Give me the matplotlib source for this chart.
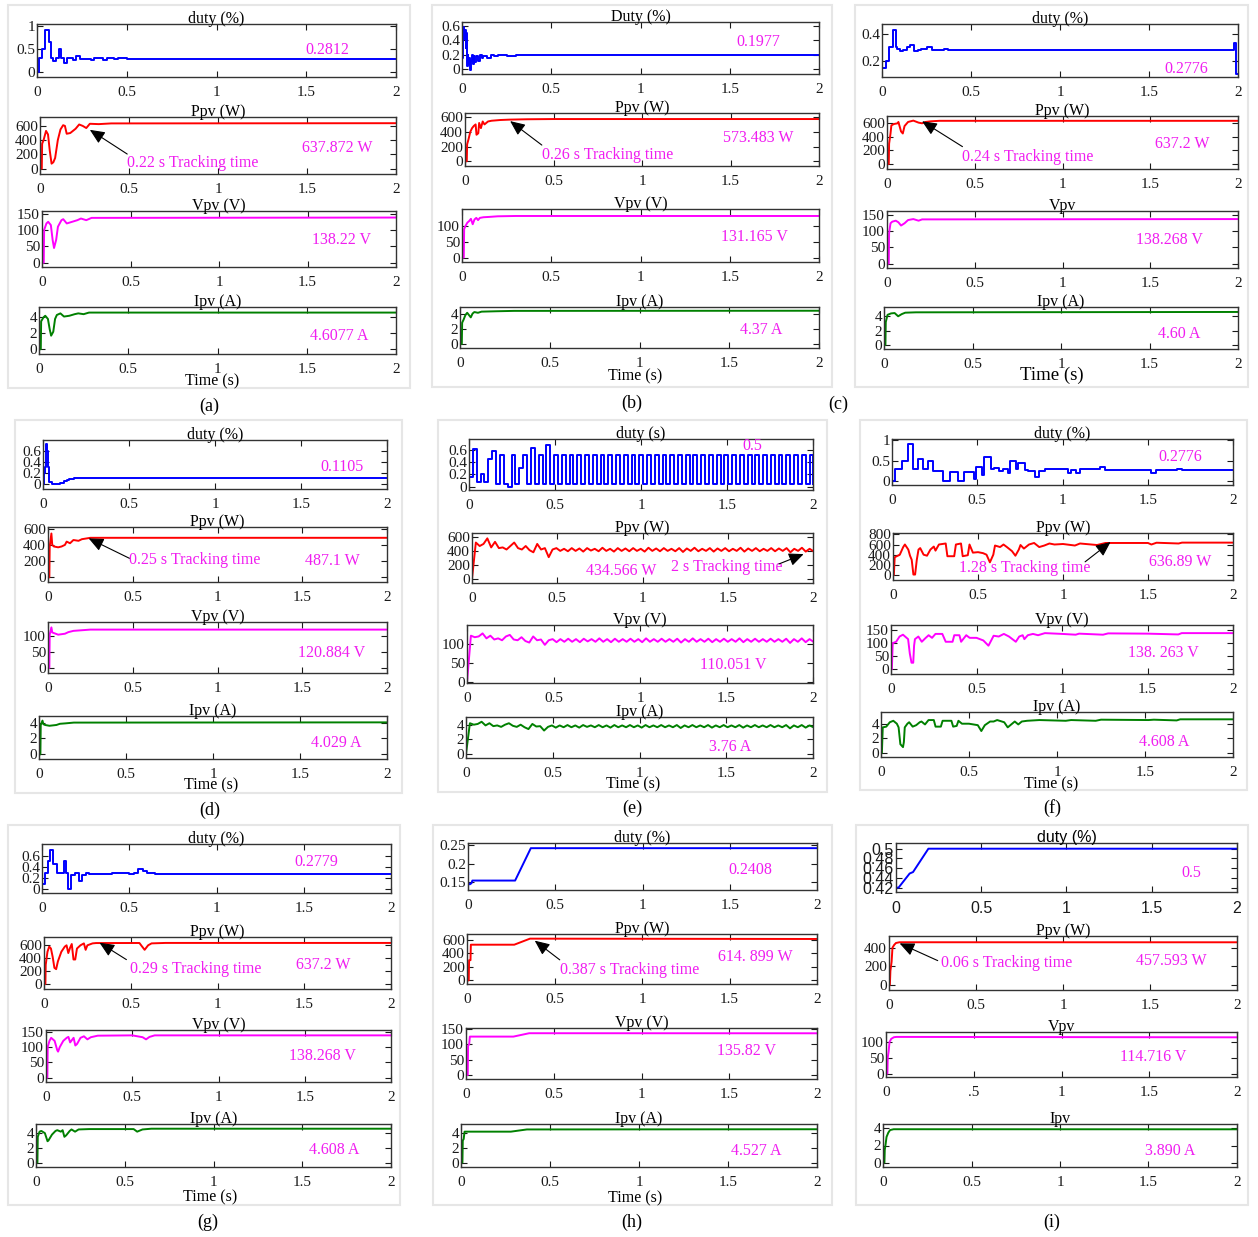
import numpy as np
import matplotlib
matplotlib.use('Agg')
import matplotlib.pyplot as plt
from matplotlib.patches import Rectangle

plt.rcParams['font.family'] = ['Liberation Serif', 'DejaVu Serif']

# ---------------------------------------------------------------
# data (time in s)
# ---------------------------------------------------------------

# (a)
a_duty_t = [0, 0.012, 0.03, 0.045, 0.065, 0.08, 0.09, 0.105, 0.12, 0.135, 0.15, 0.165, 0.2, 0.22, 0.24, 0.3, 0.32, 0.37, 0.39, 0.43, 0.45, 0.5, 2.0]
a_duty = [0, 0.3, 0.5, 0.9, 0.65, 0.3, 0.22, 0.3, 0.5, 0.3, 0.18, 0.3, 0.25, 0.33, 0.28, 0.26, 0.29, 0.26, 0.29, 0.27, 0.29, 0.28, 0.28]
a_ppv_t = [0, 0.01, 0.012, 0.02, 0.034, 0.045, 0.055, 0.065, 0.075, 0.085, 0.1, 0.115, 0.13, 0.14, 0.15, 0.17, 0.2, 0.22, 0.24, 0.26, 0.28, 0.33, 0.4, 2.0]
a_ppv = [0, 0, 350, 400, 530, 480, 250, 70, 90, 150, 400, 550, 610, 600, 490, 500, 560, 620, 600, 570, 630, 625, 635, 638]
a_vpv_t = [0, 0.01, 0.012, 0.025, 0.035, 0.05, 0.06, 0.068, 0.08, 0.09, 0.1, 0.11, 0.12, 0.14, 0.17, 0.2, 0.22, 0.25, 0.28, 2.0]
a_vpv = [0, 0, 100, 120, 125, 115, 70, 45, 70, 110, 120, 130, 133, 120, 125, 130, 135, 130, 137, 138]
a_ipv_t = [0, 0.01, 0.012, 0.025, 0.035, 0.05, 0.06, 0.068, 0.08, 0.09, 0.1, 0.12, 0.14, 0.17, 0.2, 0.22, 0.25, 0.28, 2.0]
a_ipv = [0, 0, 3.5, 4.0, 4.2, 3.8, 2.5, 1.7, 2.2, 3.8, 4.3, 4.5, 4.1, 4.2, 4.4, 4.5, 4.4, 4.6, 4.6]

# (b)
b_duty_t = [0, 0.004, 0.008, 0.012, 0.016, 0.02, 0.024, 0.028, 0.032, 0.036, 0.04, 0.045, 0.05, 0.055, 0.06, 0.065, 0.07, 0.08, 0.09, 0.1, 0.11, 0.12, 0.14, 0.16, 0.18, 0.2, 0.25, 0.3, 2.0]
b_duty = [0.15, 0.4, 0.58, 0.42, 0.55, 0.3, 0.5, 0.05, 0.2, 0.08, 0.15, -0.01, 0.12, 0.2, 0.08, 0.18, 0.1, 0.19, 0.12, 0.2, 0.15, 0.19, 0.16, 0.2, 0.18, 0.2, 0.19, 0.198, 0.198]
b_ppv_t = [0, 0.01, 0.012, 0.02, 0.03, 0.04, 0.05, 0.06, 0.065, 0.075, 0.08, 0.09, 0.1, 0.11, 0.13, 0.15, 0.2, 0.25, 0.35, 0.5, 2.0]
b_ppv = [0, 0, 230, 300, 400, 450, 480, 500, 360, 380, 520, 450, 540, 500, 540, 550, 560, 565, 570, 573, 573]
b_vpv_t = [0, 0.01, 0.012, 0.02, 0.03, 0.04, 0.05, 0.06, 0.07, 0.08, 0.09, 0.1, 0.12, 0.15, 0.2, 0.3, 2.0]
b_vpv = [0, 0, 90, 100, 110, 115, 122, 105, 120, 125, 118, 125, 127, 128, 130, 131, 131]
b_ipv_t = [0, 0.01, 0.012, 0.02, 0.03, 0.04, 0.06, 0.07, 0.08, 0.1, 0.12, 0.2, 0.3, 2.0]
b_ipv = [0, 0, 2.8, 3.2, 3.8, 4.1, 3.5, 4.0, 4.2, 4.1, 4.25, 4.3, 4.35, 4.37]

# (c)
c_duty_t = [0, 0.02, 0.04, 0.06, 0.08, 0.085, 0.1, 0.12, 0.14, 0.16, 0.18, 0.2, 0.22, 0.25, 0.28, 0.35, 0.37, 1.98, 1.99, 2.0]
c_duty = [0.15, 0.2, 0.3, 0.43, 0.3, 0.29, 0.27, 0.28, 0.3, 0.32, 0.27, 0.28, 0.29, 0.3, 0.28, 0.29, 0.278, 0.33, 0.1, 0.1]
c_ppv_t = [0, 0.01, 0.012, 0.02, 0.025, 0.04, 0.06, 0.065, 0.08, 0.09, 0.1, 0.12, 0.15, 0.18, 0.2, 0.22, 0.25, 0.3, 2.0]
c_ppv = [0, 0, 300, 450, 570, 590, 600, 620, 480, 450, 560, 620, 640, 610, 600, 620, 630, 637, 637]
c_vpv_t = [0, 0.01, 0.012, 0.02, 0.03, 0.05, 0.065, 0.08, 0.1, 0.12, 0.15, 0.18, 0.2, 2.0]
c_vpv = [0, 0, 95, 125, 130, 133, 128, 118, 125, 135, 138, 133, 137, 138]
c_ipv_t = [0, 0.008, 0.01, 0.02, 0.04, 0.06, 0.08, 0.1, 0.12, 0.18, 2.0]
c_ipv = [0, 0, 3.2, 4.2, 4.4, 4.45, 4.0, 4.3, 4.5, 4.55, 4.6]

# (d)
d_duty_t = [0, 0.005, 0.01, 0.02, 0.025, 0.03, 0.035, 0.05, 0.1, 0.12, 0.14, 0.15, 0.18, 0.22, 2.0]
d_duty = [0, 0.2, 0.3, 0.72, 0.6, 0.3, 0.02, 0.0, 0.01, 0.05, 0.07, 0.09, 0.1, 0.11, 0.11]
d_ppv_t = [0, 0.008, 0.01, 0.02, 0.025, 0.035, 0.06, 0.08, 0.1, 0.11, 0.13, 0.15, 0.18, 0.2, 0.23, 0.25, 2.0]
d_ppv = [0, 0, 380, 540, 400, 380, 370, 380, 400, 440, 420, 460, 450, 470, 480, 487, 487]
d_vpv_t = [0, 0.008, 0.01, 0.02, 0.025, 0.035, 0.06, 0.1, 0.12, 0.15, 0.2, 0.25, 2.0]
d_vpv = [0, 0, 105, 128, 112, 110, 105, 108, 113, 117, 119, 121, 121]
d_ipv_t = [0, 0.008, 0.01, 0.02, 0.025, 0.035, 0.06, 0.1, 0.12, 0.15, 0.2, 2.0]
d_ipv = [0, 0, 3.7, 4.25, 3.8, 3.7, 3.6, 3.7, 3.85, 3.9, 4.0, 4.03]

# (e) sampled every 0.0225 s (half a duty period)
e_step = 0.0225
e_duty = [0.15, 0.62, 0.08, 0.2, 0.08, 0.45, 0.58, 0.05, 0.52, 0.05, 0.0, 0.52, 0.05, 0.3, 0.52, 0.05, 0.63, 0.05, 0.52, 0.05, 0.68, 0.05, 0.52, 0.05,
          0.52, 0.05, 0.52, 0.05, 0.52, 0.05, 0.52, 0.05, 0.52, 0.05,
          0.52, 0.05, 0.52, 0.05, 0.52, 0.05, 0.52, 0.05, 0.52, 0.05,
          0.52, 0.05, 0.52, 0.05, 0.52, 0.05, 0.52, 0.05, 0.52, 0.05,
          0.52, 0.05, 0.52, 0.05, 0.52, 0.05, 0.52, 0.05, 0.52, 0.05,
          0.52, 0.05, 0.52, 0.05, 0.52, 0.05, 0.52, 0.05, 0.52, 0.05,
          0.52, 0.05, 0.52, 0.05, 0.52, 0.05, 0.52, 0.05, 0.52, 0.05,
          0.52, 0.05, 0.52, 0.05, 0.52, 0.05]
e_ppv = [0, 520, 470, 500, 580, 450, 530, 440, 450, 420, 470, 520, 440, 420, 470, 410, 380, 500, 420, 440, 310, 420, 440, 400,
         430, 395, 440, 400, 435, 390, 440, 405, 430, 395,
         445, 400, 430, 390, 440, 400, 435, 395, 440, 400,
         430, 390, 445, 400, 435, 395, 440, 400, 430, 395,
         440, 385, 435, 400, 445, 395, 430, 400, 440, 390,
         435, 400, 440, 395, 430, 400, 445, 390, 435, 400,
         440, 395, 430, 400, 440, 395, 435, 400, 440, 380,
         430, 400, 445, 390, 430, 395]
e_vpv = [0, 122, 118, 120, 128, 115, 122, 112, 115, 110, 120, 124, 112, 110, 118, 108, 104, 120, 110, 112, 98, 110, 113, 105,
         113, 106, 114, 106, 113, 105, 114, 107, 113, 106,
         115, 106, 113, 105, 114, 106, 113, 106, 114, 106,
         113, 105, 115, 106, 113, 106, 114, 106, 113, 106,
         114, 104, 113, 106, 115, 106, 113, 106, 114, 105,
         113, 106, 114, 106, 113, 106, 115, 105, 113, 106,
         114, 106, 113, 106, 114, 106, 113, 106, 114, 103,
         113, 106, 115, 105, 113, 106]
e_ipv = [0, 4.2, 4.0, 4.1, 4.4, 3.9, 4.2, 3.8, 3.9, 3.7, 4.0, 4.2, 3.85, 3.7, 4.0, 3.65, 3.4, 4.1, 3.75, 3.8, 3.2, 3.7, 3.9, 3.6,
         3.9, 3.65, 3.95, 3.65, 3.9, 3.6, 3.95, 3.7, 3.9, 3.65,
         3.95, 3.65, 3.9, 3.6, 3.95, 3.65, 3.9, 3.65, 3.95, 3.65,
         3.9, 3.6, 3.95, 3.65, 3.9, 3.65, 3.95, 3.65, 3.9, 3.65,
         3.95, 3.55, 3.9, 3.65, 3.95, 3.65, 3.9, 3.65, 3.95, 3.6,
         3.9, 3.65, 3.95, 3.65, 3.9, 3.65, 3.95, 3.6, 3.9, 3.65,
         3.95, 3.65, 3.9, 3.65, 3.95, 3.65, 3.9, 3.65, 3.95, 3.5,
         3.9, 3.65, 3.95, 3.6, 3.9, 3.65]
e_t = np.arange(len(e_duty)) * e_step

# (f)
f_duty_t = [0, 0.02, 0.058, 0.094, 0.123, 0.152, 0.18, 0.21, 0.24, 0.3, 0.34, 0.39, 0.42, 0.48, 0.49, 0.53, 0.54, 0.58, 0.6, 0.63, 0.65, 0.68, 0.69, 0.73, 0.74, 0.78, 0.8, 0.84, 0.86, 0.9, 1.03, 1.05, 1.08, 1.1, 1.22, 1.25, 1.38, 1.42, 1.52, 1.55, 1.67, 1.7, 2.0]
f_duty = [0, 0.3, 0.5, 0.9, 0.3, 0.55, 0.3, 0.48, 0.25, 0.0, 0.22, 0.0, 0.22, 0.05, 0.35, 0.15, 0.6, 0.3, 0.32, 0.25, 0.3, 0.2, 0.5, 0.3, 0.45, 0.28, 0.25, 0.1, 0.25, 0.3, 0.2, 0.28, 0.2, 0.3, 0.35, 0.28, 0.26, 0.28, 0.2, 0.27, 0.3, 0.28, 0.28]
f_ppv_t = [0, 0.005, 0.01, 0.04, 0.06, 0.07, 0.09, 0.1, 0.11, 0.12, 0.13, 0.14, 0.15, 0.16, 0.18, 0.2, 0.22, 0.24, 0.25, 0.27,
           0.31, 0.32, 0.36, 0.37, 0.4, 0.41, 0.44, 0.45, 0.47, 0.5, 0.53, 0.55, 0.57, 0.59, 0.6, 0.63, 0.65, 0.67, 0.7, 0.72,
           0.74, 0.75, 0.77, 0.8, 0.83, 0.86, 0.89, 0.92, 0.95,
           1.0, 1.07, 1.1, 1.2, 1.25, 1.5, 1.52, 1.55, 1.68, 1.7, 2.0]
f_ppv = [0, 0, 350, 400, 550, 600, 500, 380, 300, 10, 10, 300, 500, 530, 400, 380, 500, 560, 480, 600,
         620, 370, 370, 600, 620, 370, 390, 600, 440, 450, 430, 400, 250, 400, 580, 550, 600, 550, 470, 380,
         500, 590, 520, 600, 630, 550, 580, 620, 600,
         610, 580, 620, 590, 630, 630, 600, 635, 620, 637, 637]
f_vpv_t = [0, 0.005, 0.01, 0.03, 0.05, 0.07, 0.1, 0.11, 0.12, 0.13, 0.135, 0.14, 0.16, 0.18, 0.2, 0.22, 0.24, 0.26, 0.3, 0.32, 0.36, 0.37, 0.4, 0.41, 0.44, 0.46, 0.5, 0.54, 0.57, 0.59, 0.6, 0.63, 0.66, 0.69, 0.72, 0.73, 0.75, 0.77, 0.78, 0.8, 0.83, 0.86, 0.9, 1.0, 1.08, 1.1, 1.24, 1.27, 1.5, 1.68, 1.7, 2.0]
f_vpv = [0, 0, 100, 105, 125, 132, 115, 60, 25, 25, 90, 115, 125, 105, 118, 130, 120, 135, 135, 105, 105, 130, 130, 105, 130, 120, 120, 110, 90, 115, 128, 125, 135, 125, 110, 105, 125, 130, 115, 130, 135, 130, 138, 135, 132, 136, 132, 137, 136, 133, 138, 138]
f_ipv_t = [0, 0.005, 0.01, 0.03, 0.05, 0.07, 0.09, 0.1, 0.11, 0.125, 0.13, 0.135, 0.15, 0.16, 0.18, 0.2, 0.22, 0.23, 0.25, 0.27, 0.3, 0.31, 0.34, 0.35, 0.4, 0.41, 0.43, 0.44, 0.46, 0.5, 0.55, 0.57, 0.59, 0.62, 0.64, 0.66, 0.7, 0.72, 0.75, 0.76, 0.78, 0.8, 0.83, 0.9, 1.05, 1.08, 1.22, 1.25, 1.52, 1.55, 1.68, 1.7, 2.0]
f_ipv = [0, 0, 3.5, 3.6, 4.2, 4.4, 4.0, 3.5, 1.2, 0.8, 1.5, 3.5, 4.0, 4.2, 3.6, 3.8, 4.2, 4.3, 3.9, 4.5, 4.5, 3.6, 3.6, 4.4, 4.4, 3.6, 3.7, 4.4, 4.0, 4.0, 3.8, 3.0, 3.8, 4.3, 4.3, 4.5, 4.2, 3.5, 4.1, 4.3, 3.9, 4.3, 4.4, 4.5, 4.4, 4.5, 4.4, 4.55, 4.5, 4.55, 4.45, 4.6, 4.6]

# (g)
g_duty_t = [0, 0.015, 0.035, 0.045, 0.065, 0.085, 0.125, 0.14, 0.15, 0.165, 0.19, 0.2, 0.21, 0.23, 0.25, 0.27, 0.3, 0.4, 0.5, 0.53, 0.55, 0.58, 0.6, 0.65, 2.0]
g_duty = [0.1, 0.3, 0.5, 0.7, 0.45, 0.3, 0.5, 0.3, 0.0, 0.25, 0.3, 0.3, 0.15, 0.25, 0.3, 0.27, 0.28, 0.29, 0.27, 0.3, 0.37, 0.33, 0.3, 0.28, 0.28]
g_ppv_t = [0, 0.008, 0.01, 0.02, 0.03, 0.04, 0.05, 0.06, 0.07, 0.08, 0.1, 0.12, 0.13, 0.14, 0.15, 0.16, 0.17, 0.18, 0.19, 0.21, 0.23, 0.24, 0.25, 0.28, 0.3, 0.55, 0.56, 0.58, 0.6, 0.62, 0.7, 2.0]
g_ppv = [0, 0, 300, 500, 580, 550, 420, 250, 230, 350, 500, 580, 600, 480, 560, 620, 380, 380, 550, 600, 630, 530, 600, 630, 635, 636, 600, 530, 600, 630, 637, 637]
g_vpv_t = [0, 0.008, 0.01, 0.02, 0.03, 0.05, 0.065, 0.07, 0.08, 0.1, 0.12, 0.13, 0.14, 0.16, 0.17, 0.18, 0.2, 0.22, 0.24, 0.26, 0.3, 0.5, 0.56, 0.58, 0.6, 0.63, 2.0]
g_vpv = [0, 0, 100, 120, 130, 120, 90, 85, 100, 120, 130, 133, 115, 130, 105, 110, 130, 135, 125, 132, 137, 138, 132, 125, 133, 138, 138]
g_ipv_t = [0, 0.008, 0.01, 0.02, 0.03, 0.05, 0.065, 0.07, 0.09, 0.11, 0.12, 0.14, 0.15, 0.16, 0.17, 0.19, 0.2, 0.22, 0.24, 0.3, 0.55, 0.57, 0.6, 0.65, 2.0]
g_ipv = [0, 0, 3.5, 4.2, 4.3, 4.0, 2.9, 3.0, 3.8, 4.3, 4.4, 4.2, 4.4, 3.5, 3.7, 4.3, 4.5, 4.2, 4.5, 4.55, 4.55, 4.2, 4.5, 4.6, 4.6]

# (h)
h_duty_t = [0, 0.01, 0.02, 0.025, 0.27, 0.36, 2.0]
h_duty = [0.15, 0.145, 0.148, 0.155, 0.155, 0.2408, 0.2408]
h_ppv_t = [0, 0.01, 0.012, 0.02, 0.022, 0.27, 0.36, 2.0]
h_ppv = [0, 0, 300, 300, 530, 530, 620, 615]
h_vpv_t = [0, 0.01, 0.012, 0.018, 0.022, 0.27, 0.36, 2.0]
h_vpv = [0, 0, 95, 100, 125, 125, 136, 135.8]
h_ipv_t = [0, 0.008, 0.01, 0.015, 0.02, 0.28, 0.37, 2.0]
h_ipv = [0, 0, 3.0, 3.2, 4.2, 4.2, 4.5, 4.527]

# (i)
i_duty_t = [0, 0.015, 0.08, 0.1, 0.19, 2.0]
i_duty = [0.42, 0.42, 0.449, 0.452, 0.5, 0.5]
i_ppv_t = [0, 0.005, 0.008, 0.015, 0.02, 0.03, 0.04, 0.06, 2.0]
i_ppv = [0, 0, 150, 250, 400, 430, 450, 458, 457.6]
i_vpv_t = [0, 0.008, 0.01, 0.015, 0.02, 0.03, 0.045, 0.06, 2.0]
i_vpv = [0, 0, 50, 70, 100, 110, 115, 116, 114.7]
i_ipv_t = [0, 0.008, 0.01, 0.015, 0.02, 0.03, 0.04, 0.06, 2.0]
i_ipv = [0, 0, 1.5, 2.2, 3.0, 3.5, 3.8, 3.9, 3.89]

# printed values on every subplot
panel_keys = ['a', 'b', 'c', 'd', 'e', 'f', 'g', 'h', 'i']
duty_text = ['0.2812', '0.1977', '0.2776', '0.1105', '0.5', '0.2776', '0.2779', '0.2408', '0.5']
ppv_text = ['637.872 W', '573.483 W', '637.2 W', '487.1 W', '434.566 W', '636.89 W', '637.2 W', '614. 899 W', '457.593 W']
vpv_text = ['138.22 V', '131.165 V', '138.268 V', '120.884 V', '110.051 V', '138. 263 V', '138.268 V', '135.82 V', '114.716 V']
ipv_text = ['4.6077 A', '4.37 A', '4.60 A', '4.029 A', '3.76 A', '4.608 A', '4.608 A', '4.527 A', '3.890 A']
track_text = ['0.22 s Tracking time', '0.26 s Tracking time', '0.24 s Tracking time', '0.25 s Tracking time',
              '2 s Tracking time', '1.28 s Tracking time', '0.29 s Tracking time', '0.387 s Tracking time',
              '0.06 s Tracking time']

series = {
    'a': [(a_duty_t, a_duty), (a_ppv_t, a_ppv), (a_vpv_t, a_vpv), (a_ipv_t, a_ipv)],
    'b': [(b_duty_t, b_duty), (b_ppv_t, b_ppv), (b_vpv_t, b_vpv), (b_ipv_t, b_ipv)],
    'c': [(c_duty_t, c_duty), (c_ppv_t, c_ppv), (c_vpv_t, c_vpv), (c_ipv_t, c_ipv)],
    'd': [(d_duty_t, d_duty), (d_ppv_t, d_ppv), (d_vpv_t, d_vpv), (d_ipv_t, d_ipv)],
    'e': [(e_t, e_duty), (e_t, e_ppv), (e_t, e_vpv), (e_t, e_ipv)],
    'f': [(f_duty_t, f_duty), (f_ppv_t, f_ppv), (f_vpv_t, f_vpv), (f_ipv_t, f_ipv)],
    'g': [(g_duty_t, g_duty), (g_ppv_t, g_ppv), (g_vpv_t, g_vpv), (g_ipv_t, g_ipv)],
    'h': [(h_duty_t, h_duty), (h_ppv_t, h_ppv), (h_vpv_t, h_vpv), (h_ipv_t, h_ipv)],
    'i': [(i_duty_t, i_duty), (i_ppv_t, i_ppv), (i_vpv_t, i_vpv), (i_ipv_t, i_ipv)],
}

# ---------------------------------------------------------------
# layout (pixel boxes: left, top, right, bottom)
# ---------------------------------------------------------------
W, H = 1258, 1237
P4 = [0, 200, 400, 600]
layout = {
    'a': dict(box=[(37, 24, 396, 77), (40, 117, 396, 174), (42, 211, 396, 267), (39, 307, 396, 354)],
              ylim=[(-0.12, 1.04), (-75, 725), (-13, 158), (-0.6, 5.3)],
              yt=[[0, 0.5, 1], P4, [0, 50, 100, 150], [0, 2, 4]],
              titles=['duty (%)', 'Ppv (W)', 'Vpv (V)', 'Ipv (A)'],
              vpos=[(1.62, 0.47), (1.67, 293), (1.69, 70), (1.68, 1.67)],
              tpos=(0.49, 75), tail=(0.49, 205), head=(0.28, 545),
              time=(212, 381, 11.5), frame=(8, 5, 410, 388), cap=(209, 406)),
    'b': dict(box=[(462, 22, 819, 74), (465, 113, 819, 166), (462, 209, 819, 262), (460, 307, 819, 348)],
              ylim=[(-0.065, 0.655), (-64, 655), (-14, 153), (-0.52, 4.86)],
              yt=[[0, 0.2, 0.4, 0.6], P4, [0, 50, 100], [0, 2, 4]],
              titles=['Duty (%)', 'Ppv (W)', 'Vpv (V)', 'Ipv (A)'],
              vpos=[(1.66, 0.38), (1.655, 321), (1.64, 66), (1.68, 1.85)],
              tpos=(0.434, 83), tail=(0.434, 220), head=(0.255, 545),
              time=(635, 376, 11.5), frame=(432, 5, 832, 387), cap=(632, 403)),
    'c': dict(box=[(882, 24, 1238, 77), (887, 116, 1238, 169), (887, 211, 1238, 268), (884, 307, 1238, 349)],
              ylim=[(0.08, 0.4725), (-74, 708), (-13.5, 163), (-0.55, 5.29)],
              yt=[[0.2, 0.4], P4, [0, 50, 100, 150], [0, 2, 4]],
              titles=['duty (%)', 'Ppv (W)', 'Vpv', 'Ipv (A)'],
              vpos=[(1.71, 0.1425), (1.68, 290), (1.61, 72), (1.67, 1.6)],
              tpos=(0.43, 108), tail=(0.43, 256), head=(0.2, 630),
              time=(1052, 375, 13.5), frame=(855, 5, 1248, 387), cap=(838, 404)),
    'd': dict(box=[(43, 440, 387, 489), (48, 527, 387, 582), (48, 622, 387, 673), (39, 716, 387, 759)],
              ylim=[(-0.1, 0.8), (-57, 620), (-16, 145), (-0.58, 4.83)],
              yt=[[0, 0.2, 0.4, 0.6], P4, [0, 50, 100], [0, 2, 4]],
              titles=['duty (%)', 'Ppv (W)', 'Vpv (V)', 'Ipv (A)'],
              vpos=[(1.74, 0.3), (1.68, 207), (1.67, 47), (1.71, 1.375)],
              tpos=(0.48, 215), tail=(0.48, 235), head=(0.24, 480),
              time=(211, 785, 11.5), frame=(15, 420, 402, 793), cap=(210, 810)),
    'e': dict(box=[(469, 439, 813, 490), (472, 533, 813, 583), (467, 625, 813, 683), (466, 717, 813, 758)],
              ylim=[(-0.055, 0.775), (-61, 657), (-2, 150), (-0.55, 5.05)],
              yt=[[0, 0.2, 0.4, 0.6], P4, [0, 50, 100], [0, 2, 4]],
              titles=['duty (s)', 'Ppv (W)', 'Vpv (V)', 'Ipv (A)'],
              vpos=[(1.65, 0.66), (0.876, 118), (1.54, 45), (1.52, 0.9)],
              tpos=(1.167, 165), tail=(1.8, 212), head=(1.945, 354),
              time=(633, 784, 11.5), frame=(438, 420, 827, 792), cap=(632, 808)),
    'f': dict(box=[(892, 439, 1233, 485), (893, 533, 1233, 580), (891, 625, 1233, 674), (881, 712, 1233, 757)],
              ylim=[(-0.1, 1.033), (-97, 826), (-18, 169), (-0.55, 5.6)],
              yt=[[0, 0.5, 1], [0, 200, 400, 600, 800], [0, 50, 100, 150], [0, 2, 4]],
              titles=['duty (%)', 'Ppv (W)', 'Vpv (V)', 'Ipv (A)'],
              vpos=[(1.69, 0.578), (1.69, 260), (1.59, 61), (1.61, 1.5)],
              tpos=(0.39, 130), tail=(1.13, 260), head=(1.28, 650),
              time=(1051, 784, 11.5), frame=(860, 420, 1247, 790), cap=(1052, 808)),
    'g': dict(box=[(42, 844, 391, 893), (44, 937, 391, 989), (46, 1030, 391, 1082), (36, 1124, 391, 1167)],
              ylim=[(-0.066, 0.81), (-78, 729), (-14, 155.5), (-0.6, 5.24)],
              yt=[[0, 0.2, 0.4, 0.6], P4, [0, 50, 100, 150], [0, 2, 4]],
              titles=['duty (%)', 'Ppv (W)', 'Vpv (V)', 'Ipv (A)'],
              vpos=[(1.57, 0.49), (1.61, 300), (1.6, 70), (1.68, 1.7)],
              tpos=(0.494, 233), tail=(0.475, 378), head=(0.32, 640),
              time=(210, 1197, 11.5), frame=(8, 825, 400, 1205), cap=(208, 1222)),
    'h': dict(box=[(468, 843, 817, 890), (467, 934, 817, 984), (466, 1028, 817, 1079), (461, 1124, 817, 1167)],
              ylim=[(0.13, 0.2545), (-54, 689), (-13, 153), (-0.6, 5.24)],
              yt=[[0.15, 0.2, 0.25], P4, [0, 50, 100, 150], [0, 2, 4]],
              titles=['duty (%)', 'Ppv (W)', 'Vpv (V)', 'Ipv (A)'],
              vpos=[(1.62, 0.184), (1.65, 344), (1.6, 77), (1.66, 1.6)],
              tpos=(0.53, 157), tail=(0.53, 305), head=(0.387, 590),
              time=(635, 1198, 11.5), frame=(433, 825, 832, 1205), cap=(632, 1222)),
    'i': dict(box=[(896, 843, 1237, 892), (889, 936, 1237, 990), (886, 1032, 1237, 1077), (883, 1124, 1237, 1167)],
              ylim=[(0.411, 0.5117), (-54, 525), (-10.5, 131.5), (-0.51, 4.51)],
              yt=[[0.42, 0.44, 0.46, 0.48, 0.5], [0, 200, 400], [0, 50, 100], [0, 2, 4]],
              titles=['duty (%)', 'Ppv (W)', 'Vpv', 'Ipv'],
              vpos=[(1.73, 0.4497), (1.62, 257), (1.52, 52), (1.62, 1.37)],
              tpos=(0.30, 240), tail=(0.28, 261), head=(0.061, 446),
              time=None, frame=(856, 825, 1248, 1205), cap=(1052, 1222)),
}

LINE_COLS = ['#0000ff', '#ff0000', '#ff00ff', '#008000']
MAG = '#f01ef0'
XT = [0, 0.5, 1, 1.5, 2]

fig = plt.figure(figsize=(W / 100, H / 100), dpi=100)


def fx(x):
    return x / W


def fy(y):
    return 1 - y / H


for n, key in enumerate(panel_keys):
    L = layout[key]
    fl, ft, fr, fb = L['frame']
    fig.patches.append(Rectangle((fx(fl), fy(fb)), (fr - fl) / W, (fb - ft) / H,
                                 transform=fig.transFigure, fill=False,
                                 ec='#e6e6e6', lw=1.5))
    texts = [duty_text[n], ppv_text[n], vpv_text[n], ipv_text[n]]
    for k in range(4):
        l, t, r, b = L['box'][k]
        ax = fig.add_axes([fx(l), fy(b), (r - l) / W, (b - t) / H])
        tt, yy = series[key][k]
        ds = 'steps-post' if (k == 0 and key not in ('h', 'i')) else 'default'
        ax.plot(tt, yy, color=LINE_COLS[k], lw=1.4, drawstyle=ds)
        ax.set_xlim(0, 2)
        ax.set_ylim(*L['ylim'][k])
        ax.set_xticks(XT)
        if key == 'i' and k == 2:
            ax.set_xticklabels(['0', '.5', '1', '1.5', '2'])
        else:
            ax.set_xticklabels(['%g' % v for v in XT])
        ax.set_yticks(L['yt'][k])
        ax.set_yticklabels(['%g' % v for v in L['yt'][k]])
        ax.tick_params(direction='in', top=True, right=True, length=4,
                       width=0.8, labelsize=11, colors='#1a1a1a')
        ax.tick_params(axis='x', pad=6.5)
        ax.tick_params(axis='y', pad=1.5)
        for sp in ax.spines.values():
            sp.set_linewidth(1.0)
            sp.set_color('#333333')
        sans = (key == 'i' and k == 0)
        ax.set_title(L['titles'][k], fontsize=11.5, pad=1,
                     family='Liberation Sans' if sans else None)
        if sans:
            for lab in ax.get_xticklabels() + ax.get_yticklabels():
                lab.set_family('Liberation Sans')
                lab.set_fontsize(11.5)

        vx, vy = L['vpos'][k]
        ax.text(vx, vy, texts[k], color=MAG, fontsize=11.5, ha='center', va='center')

        if k == 1:
            ax.text(L['tpos'][0], L['tpos'][1], track_text[n], color=MAG,
                    fontsize=11.5, ha='left', va='center')
            ax.annotate('', xy=L['head'], xytext=L['tail'],
                        arrowprops=dict(arrowstyle='-|>,head_length=0.9,head_width=0.4',
                                        color='black', lw=0.8,
                                        shrinkA=0, shrinkB=0))

    if L['time'] is not None:
        tx, ty, ts = L['time']
        fig.text(fx(tx), fy(ty), 'Time (s)', fontsize=ts, ha='center', va='center')
    cx, cy = L['cap']
    fig.text(fx(cx), fy(cy), '(%s)' % key, fontsize=13, ha='center', va='center')

fig.savefig('out.png', dpi=100, facecolor='white')
